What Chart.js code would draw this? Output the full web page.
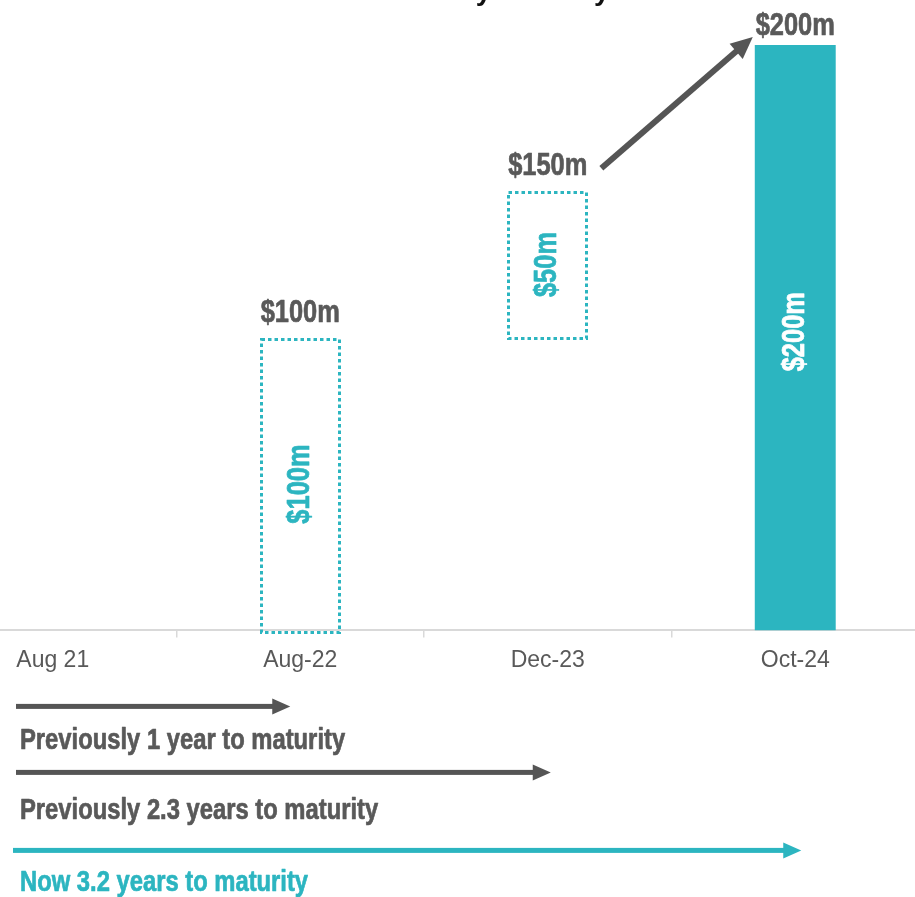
<!DOCTYPE html>
<html>
<head>
<meta charset="utf-8">
<script src="https://cdn.jsdelivr.net/npm/chart.js@4/dist/chart.umd.min.js"></script>
<style>
  html, body { margin: 0; padding: 0; background: #ffffff; overflow: hidden; width: 915px; height: 897px; }
  #wrap { position: relative; width: 915px; height: 897px; overflow: hidden; }
  #c { position: absolute; left: -71px; top: 0; }
</style>
</head>
<body>
<div id="wrap"><canvas id="c" width="990" height="897"></canvas></div>
<script>
// ---- data ----
const categories = ['Aug 21', 'Aug-22', 'Dec-23', 'Oct-24'];
const previousNotes = [null, [0, 100], [100, 150], null];   // $m, floating ranges (dotted)
const currentNotes = [null, null, null, 200];                // $m (solid)
const topLabels = [null, '$100m', '$150m', '$200m'];
const insideLabels = [null, '$100m', '$50m', '$200m'];
const maturityLabels = ['Previously 1 year to maturity', 'Previously 2.3 years to maturity', 'Now 3.2 years to maturity'];
const maturityEndCategory = [1, 2, 3];
const titleText = 'Senior notes debt by maturity';

// ---- style ----
const TEAL = '#2cb5c0';
const GRAY = '#595959';
const ARROW_GRAY = '#555555';
const SQUEEZE = 0.82;   // emulate a condensed bold face
const BASE_FONT = '"Liberation Sans", Arial, sans-serif';

function drawText(ctx, text, x, y, o) {
  ctx.save();
  ctx.translate(x, y);
  if (o.rotate) ctx.rotate(o.rotate);
  ctx.scale(SQUEEZE, 1);
  ctx.font = 'bold ' + o.size + 'px ' + BASE_FONT;
  ctx.fillStyle = o.color;
  ctx.strokeStyle = o.color;
  ctx.lineWidth = 0.7;
  ctx.lineJoin = 'round';
  ctx.textAlign = o.align || 'center';
  ctx.textBaseline = o.baseline || 'middle';
  ctx.fillText(text, 0, 0);
  ctx.strokeText(text, 0, 0);
  const w = ctx.measureText(text).width * SQUEEZE;
  ctx.restore();
  return w;
}

function arrow(ctx, x0, y0, x1, y1, shaft, headLen, headW, color) {
  const ang = Math.atan2(y1 - y0, x1 - x0);
  const len = Math.hypot(x1 - x0, y1 - y0);
  ctx.save();
  ctx.translate(x0, y0);
  ctx.rotate(ang);
  ctx.fillStyle = color;
  ctx.fillRect(0, -shaft / 2, len - headLen + 1, shaft);
  ctx.beginPath();
  ctx.moveTo(len, 0);
  ctx.lineTo(len - headLen, -headW / 2);
  ctx.lineTo(len - headLen, headW / 2);
  ctx.closePath();
  ctx.fill();
  ctx.restore();
}

const annotate = {
  id: 'annotate',
  afterDatasetsDraw(chart) {
    const ctx = chart.ctx;
    const prev = chart.getDatasetMeta(0).data;
    const cur = chart.getDatasetMeta(1).data;
    // dotted boxes
    ctx.save();
    ctx.strokeStyle = TEAL;
    ctx.lineWidth = 3;
    ctx.setLineDash([3.5, 3]);
    prev.forEach((el, i) => {
      if (previousNotes[i] == null) return;
      const top = Math.min(el.y, el.base), bot = Math.max(el.y, el.base);
      const l = Math.round(el.x - el.width / 2);
      const w = Math.round(el.width);
      ctx.strokeRect(l + 1.5, Math.round(top) + 1.5, w - 3, Math.round(bot - top));
    });
    ctx.restore();

    const rects = categories.map((c, i) => {
      const el = previousNotes[i] != null ? prev[i] : (currentNotes[i] != null ? cur[i] : null);
      if (!el) return null;
      return { x: el.x, w: el.width, top: Math.min(el.y, el.base), bot: Math.max(el.y, el.base) };
    });

    // top value labels
    const labelInfo = [];
    rects.forEach((r, i) => {
      if (!r || !topLabels[i]) return;
      const by = r.top - (currentNotes[i] != null ? 10 : 16);
      const w = drawText(ctx, topLabels[i], r.x, by, { size: 31, color: GRAY, baseline: 'alphabetic' });
      labelInfo[i] = { right: r.x + w / 2, mid: by - 11 };
    });
    // inside rotated labels
    rects.forEach((r, i) => {
      if (!r || !insideLabels[i]) return;
      const solid = currentNotes[i] != null;
      drawText(ctx, insideLabels[i], r.x, (r.top + r.bot) / 2 - (solid ? 6 : 0),
        { size: 31, color: solid ? '#ffffff' : TEAL, rotate: -Math.PI / 2 });
    });
    // diagonal arrow from $150m label to $200m bar
    const li = labelInfo[2], r3 = rects[3];
    if (li && r3) {
      arrow(ctx, li.right + 14, li.mid + 4, r3.x - r3.w / 2 - 2, r3.top - 8, 6, 22, 20, ARROW_GRAY);
    }
  },
  afterDraw(chart) {
    const ctx = chart.ctx;
    const xs = chart.scales.x;
    const base = chart.chartArea.bottom;
    const canvasLeft = -71; // canvas offset inside page
    const pageX = px => px - canvasLeft;
    // clipped title at top
    ctx.save();
    ctx.font = 'bold 28px "Liberation Sans", Arial, sans-serif';
    ctx.fillStyle = '#111111';
    ctx.textAlign = 'center';
    ctx.textBaseline = 'alphabetic';
    ctx.fillText(titleText, pageX(412), 0);
    ctx.restore();

    // maturity arrows + labels
    const arrowDy = [76, 142, 220];
    const textDy = [111, 181, 253];
    const tipOffset = [-10, 3, 6];
    const startX = [16, 16, 13];
    maturityLabels.forEach((t, i) => {
      const color = i === maturityLabels.length - 1 ? TEAL : ARROW_GRAY;
      const tip = xs.getPixelForValue(maturityEndCategory[i]) + tipOffset[i];
      const y = base + arrowDy[i];
      arrow(ctx, pageX(startX[i]), y, tip, y, 5, 18, 16, color);
      drawText(ctx, t, pageX(20), base + textDy[i], { size: 29, color: i === 2 ? TEAL : GRAY, align: 'left' });
    });
  }
};

new Chart(document.getElementById('c'), {
  type: 'bar',
  data: {
    labels: categories,
    datasets: [
      { label: 'Previous', data: previousNotes, backgroundColor: 'rgba(0,0,0,0)', borderWidth: 0,
        grouped: false, barPercentage: 0.327, categoryPercentage: 1 },
      { label: 'Now', data: currentNotes, backgroundColor: TEAL, borderWidth: 0,
        grouped: false, barPercentage: 0.327, categoryPercentage: 1 }
    ]
  },
  options: {
    responsive: false,
    animation: false,
    devicePixelRatio: 1,
    layout: { padding: { top: 45, bottom: 214, left: 0, right: 0 } },
    plugins: { legend: { display: false }, tooltip: { enabled: false }, title: { display: false } },
    scales: {
      x: {
        offset: true,
        grid: { display: true, drawOnChartArea: false, drawTicks: true, tickLength: 7, color: '#d9d9d9', lineWidth: 1.5, offset: true },
        border: { display: true, color: '#d9d9d9', width: 2 },
        ticks: { color: GRAY, padding: 9, font: { family: '"Liberation Sans", Arial, sans-serif', size: 23 }, maxRotation: 0, autoSkip: false }
      },
      y: { display: false, min: 0, max: 200 }
    }
  },
  plugins: [annotate]
});
</script>
</body>
</html>
